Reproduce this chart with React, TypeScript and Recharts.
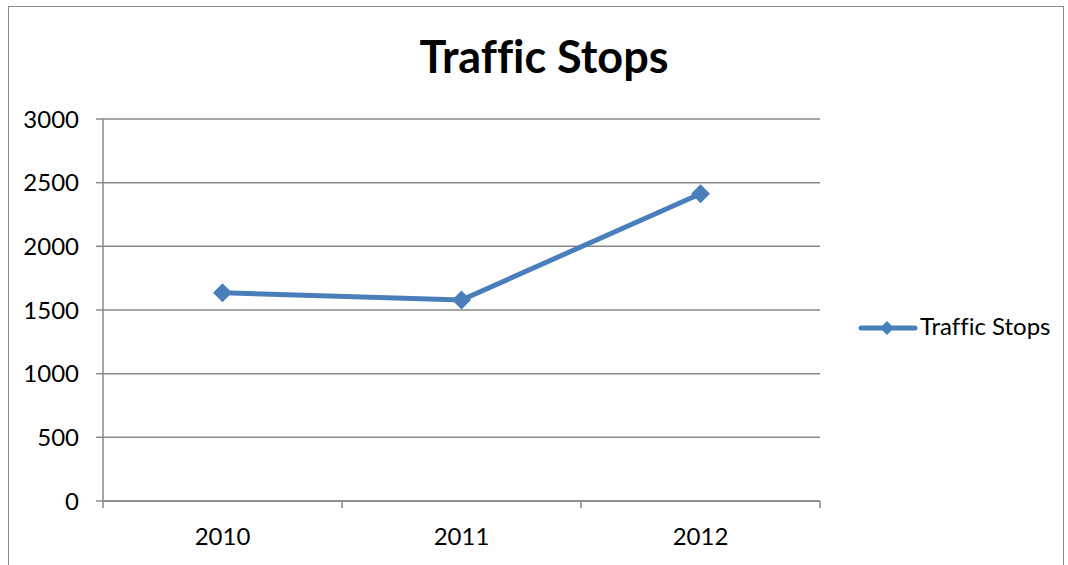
import React from 'react';
import { LineChart, Line, XAxis, YAxis, CartesianGrid } from 'recharts';

const years = ['2010', '2011', '2012'];
const stops = [1636, 1579, 2413];
const yTicks = [0, 500, 1000, 1500, 2000, 2500, 3000];
const seriesName = 'Traffic Stops';
const title = 'Traffic Stops';

const data = years.map((year, i) => ({ pos: i + 0.5, year, stops: stops[i] }));
const xTicks = [0, 0.5, 1, 1.5, 2, 2.5, 3];

const FONT = 'Lato, "Open Sans", sans-serif';
const BLUE = '#4a7ebb';
const GRID = '#888888';
const noLig = { fontVariantLigatures: 'none' as const };

const Diamond = (props: any) => {
  const { cx, cy } = props;
  if (cx == null || cy == null) return null;
  const r = 9.5;
  return <path d={`M${cx},${cy - r} L${cx + r},${cy} L${cx},${cy + r} L${cx - r},${cy} Z`} fill={BLUE} />;
};

const XTick = (props: any) => {
  const { x, y, payload } = props;
  const v = payload.value;
  if (Number.isInteger(v)) {
    return <line x1={x} y1={y} x2={x} y2={y + 7} stroke={GRID} strokeWidth={1.5} />;
  }
  const label = years[Math.floor(v)];
  return (
    <text x={x} y={y + 44} textAnchor="middle" fill="#000" fontSize={24} fontFamily={FONT}>
      {label}
    </text>
  );
};

export default function App() {
  return (
    <div style={{ position: 'absolute', left: 0, top: 0, width: 1068, height: 565, background: '#fff', overflow: 'hidden' }}>
      <div style={{ position: 'absolute', left: 8, top: 6, width: 1056, height: 600, border: `1.5px solid ${GRID}`, boxSizing: 'border-box' }} />
      <div style={{ position: 'absolute', left: 0, top: 0 }}>
        <LineChart width={1068} height={565} data={data} margin={{ top: 119, right: 248, bottom: 0, left: 0 }}>
          <CartesianGrid vertical={false} stroke={GRID} strokeWidth={1.5} />
          <XAxis
            dataKey="pos"
            type="number"
            domain={[0, 3]}
            ticks={xTicks}
            interval={0}
            height={64}
            tickSize={0}
            tickMargin={0}
            tickLine={false}
            axisLine={{ stroke: GRID, strokeWidth: 1.5 }}
            tick={<XTick />}
          />
          <YAxis
            domain={[0, 3000]}
            ticks={yTicks}
            interval={0}
            width={103}
            tickSize={7}
            tickMargin={17}
            axisLine={{ stroke: GRID, strokeWidth: 1.5 }}
            tickLine={{ stroke: GRID, strokeWidth: 1.5 }}
            tick={{ fill: '#000', fontSize: 24, fontFamily: FONT }}
          />
          <Line
            dataKey="stops"
            name={seriesName}
            stroke={BLUE}
            strokeWidth={5}
            dot={<Diamond />}
            activeDot={false}
            isAnimationActive={false}
          />
        </LineChart>
      </div>
      <svg width={1068} height={565} style={{ position: 'absolute', left: 0, top: 0, pointerEvents: 'none' }}>
        <text x={544} y={73} textAnchor="middle" fontSize={45} fontWeight={700} fontFamily={FONT} fill="#000" style={noLig}>{title}</text>
        <line x1={861} y1={328} x2={915} y2={328} stroke={BLUE} strokeWidth={5} strokeLinecap="round" />
        <path d="M887,321 L894,328 L887,335 L880,328 Z" fill={BLUE} />
        <text x={920} y={335} fontSize={24} fontFamily={FONT} fill="#000" style={noLig}>{seriesName}</text>
      </svg>
    </div>
  );
}
